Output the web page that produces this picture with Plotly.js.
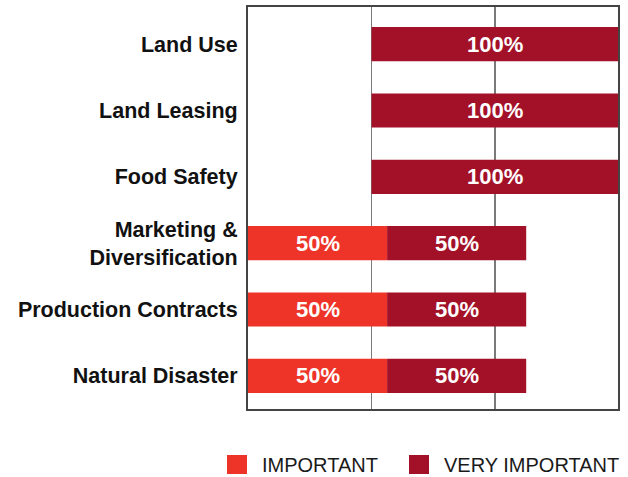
<!DOCTYPE html>
<html>
<head>
<meta charset="utf-8">
<script src="https://cdn.plot.ly/plotly-3.0.1.min.js"></script>
<style>html,body{margin:0;padding:0;background:#fff;}#chart{width:628px;height:477px;}</style>
</head>
<body>
<div id="chart"></div>
<script>
// ---- data ----
const categories = ['Land Use', 'Land Leasing', 'Food Safety', 'Marketing &<br>Diversification', 'Production Contracts', 'Natural Disaster'];
const important = [0, 0, 0, 50, 50, 50];
const veryImportant = [100, 100, 100, 50, 50, 50];
const veryStart = [44.4, 44.4, 44.4, 50, 50, 50]; // where each VERY IMPORTANT bar begins on the axis
const seriesNames = ['IMPORTANT', 'VERY IMPORTANT'];
const colors = ['#EE3428', '#A31128'];
const xMax = 133;
const gridStep = 44.4;

const FONT = '"Liberation Sans", Arial, sans-serif';

const traces = [
  {
    type: 'bar', orientation: 'h', name: seriesNames[0],
    y: categories, x: important, base: 0,
    marker: {color: colors[0]}, width: 0.515, showlegend: false, hoverinfo: 'none'
  },
  {
    type: 'bar', orientation: 'h', name: seriesNames[1],
    y: categories, x: veryImportant, base: veryStart,
    marker: {color: colors[1]}, width: 0.515, showlegend: false, hoverinfo: 'none'
  }
];

const annotations = [];
categories.forEach((c, i) => {
  if (important[i] > 0) {
    annotations.push({x: important[i] / 2, y: c, xref: 'x', yref: 'y', text: important[i] + '%',
      showarrow: false, font: {family: FONT, size: 22, color: '#ffffff', weight: 'bold'}});
  }
  if (veryImportant[i] > 0) {
    const end = Math.min(veryStart[i] + veryImportant[i], xMax);
    annotations.push({x: (veryStart[i] + end) / 2, y: c, xref: 'x', yref: 'y', text: veryImportant[i] + '%',
      showarrow: false, font: {family: FONT, size: 22, color: '#ffffff', weight: 'bold'}});
  }
});

// custom legend
const legendX = [227, 409];
const shapes = [];
seriesNames.forEach((n, k) => {
  shapes.push({type: 'rect', xref: 'paper', yref: 'paper', layer: 'above',
    x0: (legendX[k] - 248) / 370, x1: (legendX[k] + 20 - 248) / 370,
    y0: (409 - 474) / 402, y1: (409 - 455) / 402,
    fillcolor: colors[k], line: {width: 0}});
  annotations.push({xref: 'paper', yref: 'paper', x: (legendX[k] + 33 - 248) / 370, y: (409 - 465) / 402,
    xanchor: 'left', yanchor: 'middle', text: n, showarrow: false,
    font: {family: FONT, size: 20, color: '#1a1a1a'}});
});

const layout = {
  width: 628, height: 477,
  margin: {l: 248, r: 10, t: 7, b: 68},
  paper_bgcolor: '#ffffff', plot_bgcolor: '#ffffff',
  barmode: 'overlay',
  showlegend: false,
  xaxis: {
    range: [0, xMax], dtick: gridStep, tick0: 0, showticklabels: false, ticks: '',
    showgrid: true, gridcolor: '#7a7a7a', gridwidth: 1.5, zeroline: false,
    showline: true, mirror: true, linecolor: '#444444', linewidth: 2, fixedrange: true
  },
  yaxis: {
    type: 'category', categoryorder: 'array', categoryarray: categories,
    range: [5.5, -0.56], ticks: '', showgrid: false, zeroline: false,
    showline: true, mirror: true, linecolor: '#444444', linewidth: 2,
    ticklabelstandoff: 4,
    tickfont: {family: FONT, size: 21.5, color: '#111111', weight: 'bold'}, fixedrange: true
  },
  annotations: annotations,
  shapes: shapes
};

Plotly.newPlot('chart', traces, layout, {displayModeBar: false, staticPlot: true});
</script>
</body>
</html>
